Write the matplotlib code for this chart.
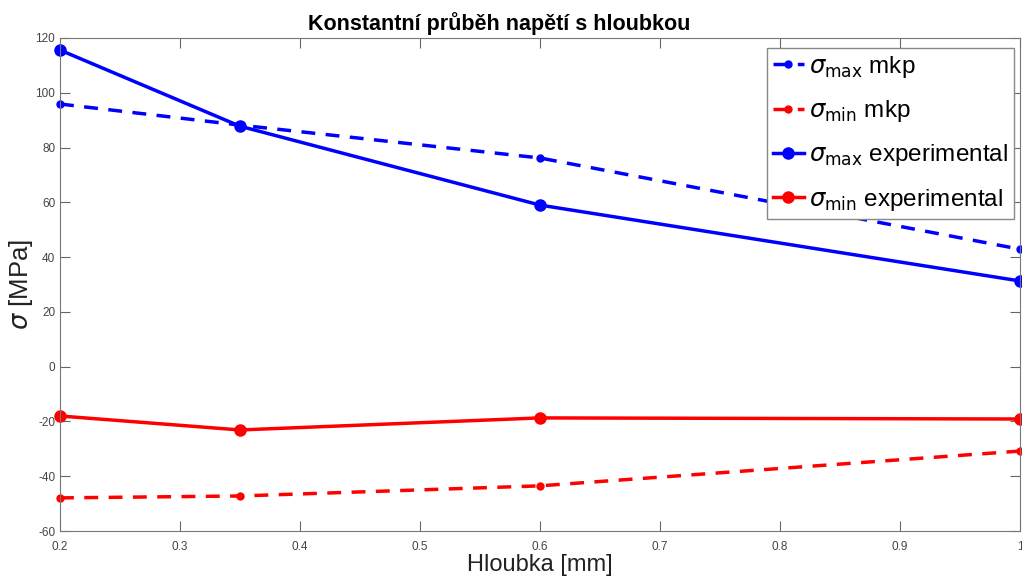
import numpy as np
import matplotlib.pyplot as plt

# depth [mm] and stresses [MPa]
hloubka = [0.2, 0.35, 0.6, 1.0]
smax_mkp = [95.9, 88.2, 76.2, 42.9]
smin_mkp = [-47.9, -47.2, -43.5, -30.8]
smax_exp = [115.6, 87.8, 59.0, 31.3]
smin_exp = [-18.0, -23.1, -18.7, -19.1]

xticks = [0.2, 0.3, 0.4, 0.5, 0.6, 0.7, 0.8, 0.9, 1.0]
xticklabels = ["0.2", "0.3", "0.4", "0.5", "0.6", "0.7", "0.8", "0.9", "1"]
yticks = np.arange(-60, 121, 20)

plt.rcParams['font.family'] = ['Liberation Sans', 'DejaVu Sans']
plt.rcParams['axes.unicode_minus'] = False

fig = plt.figure(figsize=(10.22, 5.81), dpi=100)
ax = fig.add_axes([0.0587, 0.086, 0.9393, 0.8486])

ax.plot(hloubka, smax_mkp, '--', color='blue', lw=2.5, marker='o', ms=5,
        dashes=(4, 3), label=r'$\sigma_{\mathrm{max}}$ mkp', clip_on=False)
ax.plot(hloubka, smin_mkp, '--', color='red', lw=2.5, marker='o', ms=5,
        dashes=(4, 3), label=r'$\sigma_{\mathrm{min}}$ mkp', clip_on=False)
ax.plot(hloubka, smax_exp, '-', color='blue', lw=2.5, marker='o', ms=8,
        label=r'$\sigma_{\mathrm{max}}$ experimental', clip_on=False)
ax.plot(hloubka, smin_exp, '-', color='red', lw=2.5, marker='o', ms=8,
        label=r'$\sigma_{\mathrm{min}}$ experimental', clip_on=False)

ax.set_xlim(0.2, 1.0)
ax.set_ylim(-60, 120)
ax.set_xticks(xticks)
ax.set_xticklabels(xticklabels)
ax.set_yticks(yticks)
ax.tick_params(direction='in', length=7, top=True, right=True,
               labelsize=8.5, colors='#666666', labelcolor='#444444')
ax.tick_params(axis='x', pad=7)
for s in ax.spines.values():
    s.set_color('#777777')

ax.set_title('Konstantní průběh napětí s hloubkou', fontsize=15.5,
             fontweight='bold', x=0.457, pad=6)
ax.set_xlabel('Hloubka [mm]', fontsize=17, color='#222222', labelpad=1)
ax.set_ylabel(r'$\sigma$ [MPa]', fontsize=18.5, color='#222222', labelpad=0)

leg = ax.legend(loc='upper right', fontsize=17.5, fancybox=False,
                handlelength=1.3, handletextpad=0.2, labelspacing=0.75,
                borderpad=0.25, borderaxespad=0, bbox_to_anchor=(0.994, 0.98))
leg.get_frame().set_edgecolor('#888888')
leg.get_frame().set_linewidth(1.0)
leg.get_frame().set_alpha(1.0)

fig.savefig('out.png', dpi=100)
